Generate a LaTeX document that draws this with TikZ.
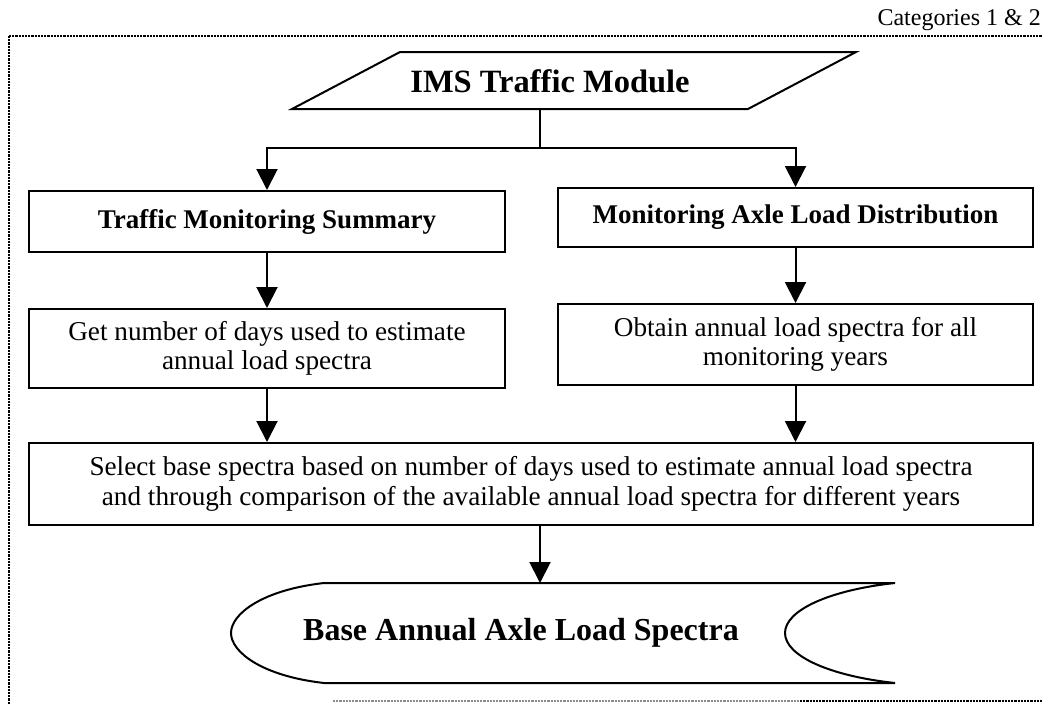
\documentclass[tikz,border=0pt]{standalone}
\usepackage{fontspec}
\setmainfont{Liberation Serif}
\usetikzlibrary{arrows.meta}
\tikzset{
  boxst/.style={draw, line width=2pt, inner sep=0pt, align=center},
  conn/.style={line width=2pt},
  arr/.style={line width=2pt, -{Triangle[width=21pt,length=21pt]}},
  dotline/.style={line width=2.5pt, dash pattern=on 2.2pt off 1pt},
  boldlbl/.style={font=\fontsize{27}{32}\selectfont\bfseries},
  reglbl/.style={font=\fontsize{27.2}{29.5}\selectfont},
}
\begin{document}
\begin{tikzpicture}[x=1pt,y=-1pt]
\useasboundingbox (0,0) rectangle (1043,704);
% frame
\draw[dotline] (9,36) -- (1043,36);
\draw[dotline] (9,36) -- (9,704);
\draw[dotline, black!45] (333,701) -- (800,701);
\draw[dotline] (800,701) -- (1043,701);
\node[anchor=base east, font=\fontsize{24}{28}\selectfont, inner sep=0pt] (cat) at (1041,25) {Categories 1 \& 2};
% IMS parallelogram
\draw[line width=2pt] (292,109) -- (400,52) -- (856,52) -- (748,109) -- cycle;
\node[font=\fontsize{32.5}{38}\selectfont\bfseries, inner sep=0pt] (ims) at (550,81) {IMS Traffic Module};
\coordinate (imsb) at (540,109);
\coordinate (split) at (540,148);
% boxes
\node[boxst, boldlbl, minimum width=476pt, minimum height=61pt] (tms) at (267,221.5) {Traffic Monitoring Summary};
\node[boxst, boldlbl, minimum width=475pt, minimum height=59pt] (mald) at (795.5,217.5) {Monitoring Axle Load Distribution};
\node[boxst, reglbl, minimum width=476pt, minimum height=79pt] (gnd) at (267,348.5) {Get number of days used to estimate\\annual load spectra};
\node[boxst, reglbl, minimum width=475pt, minimum height=81pt] (oal) at (795.5,344.5) {Obtain annual load spectra for all\\monitoring years};
\node[boxst, reglbl, minimum width=1004pt, minimum height=82pt] (sel) at (531,484) {Select base spectra based on number of days used to estimate annual load spectra\\and through comparison of the available annual load spectra for different years};
% base shape
\draw[line width=2pt] (324,583) -- (895,583)
  .. controls (830,590) and (785,610) .. (785,633)
  .. controls (785,656) and (830,676) .. (895,683)
  -- (324,683)
  .. controls (262,676) and (231,652) .. (231,633)
  .. controls (231,614) and (262,590) .. (324,583) -- cycle;
\node[font=\fontsize{32}{38}\selectfont\bfseries, inner sep=0pt] (base) at (521,633) {Base Annual Axle Load Spectra};
\coordinate (basetop) at (540,583);
% connectors
\draw[conn] (imsb) -- (split);
\draw[arr] (split) -| (tms.north);
\draw[arr] (split) -| (mald.north);
\draw[arr] (tms.south) -- (gnd.north);
\draw[arr] (mald.south) -- (oal.north);
\draw[arr] (gnd.south) -- (gnd.south |- sel.north);
\draw[arr] (oal.south) -- (oal.south |- sel.north);
\draw[arr] (sel.south -| basetop) -- (basetop);
\end{tikzpicture}
\end{document}
